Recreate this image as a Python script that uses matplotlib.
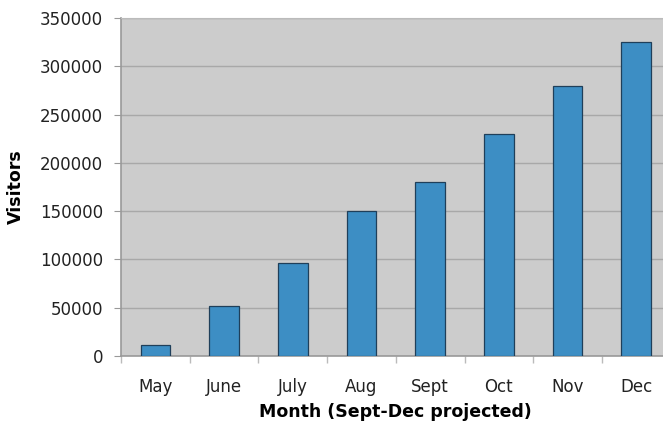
import matplotlib
matplotlib.use("Agg")
import matplotlib.pyplot as plt
import numpy as np

months = ["May", "June", "July", "Aug", "Sept", "Oct", "Nov", "Dec"]
visitors = [11000, 52000, 96000, 150000, 180000, 230000, 280000, 325000]
yticks = [0, 50000, 100000, 150000, 200000, 250000, 300000, 350000]

fig = plt.figure(figsize=(6.63, 4.24), dpi=100)
ax = fig.add_axes([121/663, 68/424, 549.6/663, 338/424])
ax.set_facecolor("#cccccc")

x = np.arange(len(months))
ax.bar(x, visitors, width=0.43, color="#3d8ec4", edgecolor="#1f3f5a", linewidth=0.9, zorder=3)

ax.set_xlim(-0.5, len(months) - 0.5)
ax.set_ylim(0, 350000)
ax.set_yticks(yticks)
ax.set_yticklabels([str(v) for v in yticks])
ax.yaxis.grid(True, color="#a8a8a8", linewidth=1.0, zorder=0)
ax.set_axisbelow(True)

ax.set_xticks(x)
ax.set_xticklabels(months)
ax.set_xticks(np.arange(len(months) + 1) - 0.5, minor=True)
ax.tick_params(axis="x", which="major", length=0, pad=16, labelsize=12, labelcolor="#222222")
ax.tick_params(axis="x", which="minor", length=5, color="#bbbbbb", width=1)
ax.tick_params(axis="y", length=5, color="#999999", labelsize=12, labelcolor="#222222", pad=8)

for s in ["left", "bottom"]:
    ax.spines[s].set_color("#999999")
    ax.spines[s].set_linewidth(1.2)
ax.spines["top"].set_color("#bbbbbb")
ax.spines["right"].set_visible(False)

ax.set_xlabel("Month (Sept-Dec projected)", fontsize=12.5, fontweight="bold", labelpad=5)
ax.set_ylabel("Visitors", fontsize=12.5, fontweight="bold")
ax.yaxis.set_label_coords(-0.174, 0.5)

fig.savefig("out.png", dpi=100)
